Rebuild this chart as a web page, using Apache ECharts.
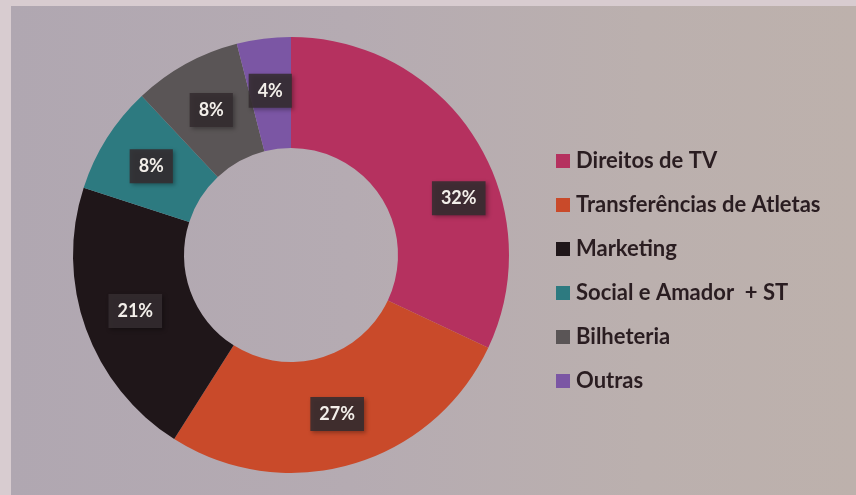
<!DOCTYPE html>
<html>
<head>
<meta charset="utf-8">
<script src="https://cdn.jsdelivr.net/npm/echarts@6/dist/echarts.min.js"></script>
<style>
  html, body { margin: 0; padding: 0; }
  body { width: 856px; height: 495px; background: #d8ccd0; position: relative; overflow: hidden; }
  .photo {
    position: absolute; left: 11px; top: 6px; right: 0; bottom: 0;
    background: linear-gradient(to right, #b0a7b1 0%, #b5abb2 40%, #bbb0ae 75%, #bdb1ac 100%);
  }
  #chart { position: absolute; left: 0; top: 0; width: 856px; height: 495px; }
</style>
</head>
<body>
<div class="photo"></div>
<div id="chart"></div>
<script>
// fatias da receita (%)
const categorias = ["Direitos de TV", "Transferências de Atletas", "Marketing", "Social e Amador  + ST", "Bilheteria", "Outras"];
const valores = [32, 27, 21, 8, 8, 4];
const cores = ["#b5315f", "#c94a2a", "#1f1619", "#2d7a80", "#5a5556", "#7b56a4"];

const chart = echarts.init(document.getElementById("chart"));

const dados = categorias.map(function (nome, i) {
  return { name: nome, value: valores[i], itemStyle: { color: cores[i] } };
});

const option = {
  backgroundColor: "transparent",
  animation: false,
  legend: {
    orient: "vertical",
    left: 551,
    top: 145,
    itemWidth: 14,
    itemHeight: 14,
    itemGap: 22,
    icon: "rect",
    textStyle: {
      fontFamily: "Lato",
      fontWeight: "bold",
      fontSize: 22,
      lineHeight: 22,
      color: "#2a1d21",
      padding: [0, 0, 0, 1]
    },
    data: categorias
  },
  series: [
    {
      type: "pie",
      center: [291, 255],
      radius: [107, 218],
      startAngle: 90,
      clockwise: true,
      avoidLabelOverlap: false,
      itemStyle: { borderWidth: 0 },
      label: {
        show: true,
        position: "inside",
        formatter: "{c}%",
        fontFamily: "Lato",
        fontWeight: "bold",
        fontSize: 18,
        color: "#f3efea",
        backgroundColor: "rgba(52,44,48,0.88)",
        padding: [9, 9, 7, 9],
        shadowColor: "rgba(0,0,0,0.35)",
        shadowBlur: 4,
        shadowOffsetX: 2,
        shadowOffsetY: 2
      },
      labelLine: { show: false },
      emphasis: { disabled: true },
      // o rótulo de 32% está deslocado no original
      labelLayout: function (params) {
        if (params.dataIndex === 0) {
          return { dx: 28, dy: 32 };
        }
      },
      data: dados
    }
  ]
};

chart.setOption(option);
</script>
</body>
</html>
